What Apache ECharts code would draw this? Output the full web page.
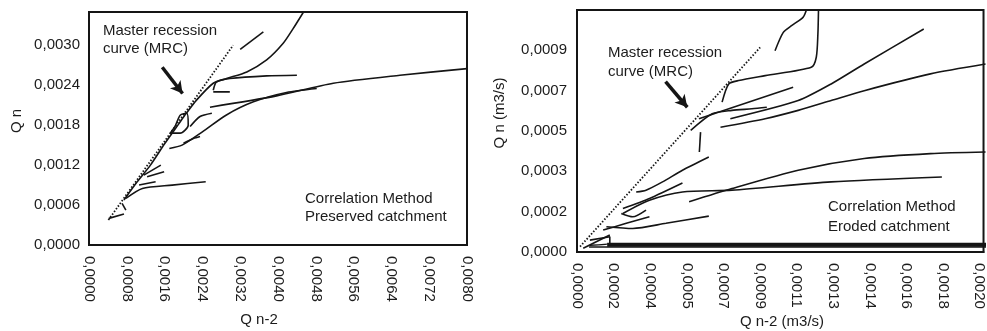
<!DOCTYPE html>
<html>
<head>
<meta charset="utf-8">
<script src="https://cdn.jsdelivr.net/npm/echarts@6/dist/echarts.min.js"></script>
<style>
  html, body { margin: 0; padding: 0; background: #fff; overflow: hidden; }
  #chart { width: 987px; height: 331px; }
</style>
</head>
<body>
<div id="chart"></div>
<script>
// ---- tick labels ----
const leftXLabels = ['0,0000', '0,0008', '0,0016', '0,0024', '0,0032', '0,0040', '0,0048', '0,0056', '0,0064', '0,0072', '0,0080']
const leftYLabels = ['0,0000', '0,0006', '0,0012', '0,0018', '0,0024', '0,0030']
const rightXLabels = ['0,0000', '0,0002', '0,0004', '0,0005', '0,0007', '0,0009', '0,0011', '0,0013', '0,0014', '0,0016', '0,0018', '0,0020']
const rightYLabels = ['0,0000', '0,0002', '0,0003', '0,0005', '0,0007', '0,0009']

// ---- preserved catchment (left) ----
const mrcLeft = [[0.00041, 0.000375], [0.00305, 0.0030]]
const arrowLeft = [[0.00155, 0.00267], [0.00198, 0.002275]]
const leftTrunk = [[0.00074, 0.000675], [0.0010, 0.00093], [0.0013, 0.0012], [0.0016, 0.00152], [0.0019, 0.00182], [0.00205, 0.00197], [0.00228, 0.00218], [0.00263, 0.00243], [0.00291, 0.0025], [0.00334, 0.0026], [0.00376, 0.00278], [0.00411, 0.00303], [0.00432, 0.00325], [0.00454, 0.0035]]
const leftB = [[0.00263, 0.002325], [0.0027, 0.00245], [0.00298, 0.0025], [0.00376, 0.00254], [0.0044, 0.00255]]
const leftDash1 = [[0.00263, 0.0023], [0.00298, 0.0023]]
const leftDash2 = [[0.0032, 0.00294], [0.00369, 0.0032]]
const leftC = [[0.00256, 0.00207], [0.00397, 0.00224], [0.00517, 0.00243], [0.00658, 0.00255], [0.0080, 0.00265]]
const leftD = [[0.0017, 0.00145], [0.00197, 0.0015], [0.0024, 0.0017], [0.0029, 0.00195], [0.00348, 0.00215], [0.00418, 0.00229], [0.00482, 0.00235]]
const leftLoop = [[0.00172, 0.00168], [0.00193, 0.00168], [0.0021, 0.0018], [0.00207, 0.00198], [0.00193, 0.00195], [0.00182, 0.00178], [0.00172, 0.00168]]
const leftBranch = [[0.00214, 0.00178], [0.00235, 0.00193], [0.0026, 0.00198]]
const leftDash3 = [[0.0020, 0.00153], [0.00221, 0.0016], [0.00235, 0.00163]]
const leftDash4 = [[0.00106, 0.0009], [0.00141, 0.00095]]
const leftHook1 = [[0.00116, 0.00105], [0.00152, 0.0012]]
const leftHook2 = [[0.00123, 0.001025], [0.00159, 0.0011]]
const leftE = [[0.00078, 0.0007], [0.00113, 0.00085], [0.00176, 0.0009], [0.00247, 0.00095]]
const leftSmall = [[0.00042, 0.0004], [0.00074, 0.000465]]
const leftCross = [[0.0007, 0.000625], [0.00078, 0.000525]]

// ---- eroded catchment (right) ----
const mrcRight = [[0.000015, 0.000024], [0.00091, 0.000913]]
const arrowRight = [[0.00044, 0.00076], [0.000548, 0.000646]]
const rightTop = [[0.000984, 0.000898], [0.001025, 0.00098], [0.001066, 0.00101], [0.001123, 0.001047], [0.00114, 0.00108]]
const rightHook = [[0.000721, 0.000669], [0.000754, 0.00075], [0.000803, 0.000765], [0.000935, 0.000787], [0.001164, 0.000824], [0.001189, 0.000869], [0.001197, 0.000973], [0.0012, 0.00108]]
const rightG = [[0.000606, 0.000595], [0.001074, 0.000735]]
const rightH = [[0.000762, 0.000595], [0.001099, 0.000676], [0.001263, 0.00075], [0.001427, 0.000839], [0.001723, 0.000995]]
const rightI = [[0.000713, 0.000557], [0.000935, 0.000595], [0.001099, 0.000632], [0.001263, 0.000676], [0.001427, 0.00072], [0.001756, 0.000795], [0.00203, 0.000839]]
const rightJ = [[0.000565, 0.000543], [0.000672, 0.000617], [0.00077, 0.000632], [0.000869, 0.000639], [0.000943, 0.000646]]
const rightVert = [[0.000614, 0.000535], [0.000608, 0.000446]]
const rightK = [[0.000557, 0.000224], [0.00077, 0.000283], [0.001099, 0.000365], [0.001427, 0.000417], [0.001756, 0.000439], [0.00203, 0.000446]]
const rightL = [[0.000228, 0.000172], [0.00036, 0.000231], [0.000524, 0.000268], [0.00077, 0.000276], [0.001263, 0.000313], [0.001813, 0.000335]]
const rightM = [[0.000294, 0.000268], [0.000343, 0.000276], [0.000425, 0.000313], [0.000524, 0.000365], [0.000655, 0.000424]]
const rightN = [[0.000228, 0.000194], [0.00036, 0.000239], [0.000524, 0.000308]]
const rightLoop = [[0.00022, 0.000172], [0.000277, 0.000157], [0.000343, 0.000187]]
const rightO = [[0.000146, 0.000113], [0.000277, 0.000105], [0.000442, 0.000128], [0.000655, 0.00016]]
const rightP = [[0.00013, 0.000098], [0.000245, 0.000128], [0.00036, 0.000157]]
const rightBox = [[0.000064, 0.000053], [0.000163, 0.000068], [0.000163, 0.00004], [0.000064, 0.00003]]
const rightFoot = [[0.000031, 0.0000165], [0.000163, 0.0000756]]
const rightBase1 = [[0.00015, 0.000032], [0.0021, 0.000032]]
const rightBase2 = [[0.00006, 0.000022], [0.0021, 0.000022]]

const leftLines = [leftTrunk, leftB, leftDash1, leftDash2, leftC, leftD, leftLoop, leftBranch, leftDash3, leftDash4, leftHook1, leftHook2, leftE, leftSmall, leftCross]
const rightLines = [rightTop, rightHook, rightG, rightH, rightI, rightJ, rightVert, rightK, rightL, rightM, rightN, rightLoop, rightO, rightP, rightBox, rightFoot, rightBase2]

const ink = '#151515'
const textInk = '#1c1c1c'
const textFont = '15px "Liberation Sans"'

function tickFmt(labels, step) {
  return function (v) {
    const i = Math.round(v / step)
    return Math.abs(v - i * step) < step * 1e-3 ? (labels[i] || '') : ''
  }
}

function curve(data, idx, width) {
  return {
    type: 'line', data: data, xAxisIndex: idx, yAxisIndex: idx,
    symbol: 'none', smooth: 0.25, silent: true,
    lineStyle: { color: ink, width: width || 1.6 }
  }
}

function mrc(data, arrow, idx) {
  return {
    type: 'line', data: data, xAxisIndex: idx, yAxisIndex: idx,
    symbol: 'none', silent: true,
    lineStyle: { color: ink, width: 1.8, type: [1.5, 1.8] },
    markLine: {
      silent: true, symbol: ['none', 'arrow'], symbolSize: [10, 12],
      label: { show: false },
      lineStyle: { color: ink, width: 3.5, type: 'solid' },
      data: [[{ coord: arrow[0] }, { coord: arrow[1] }]]
    }
  }
}

// right panel ticks are evenly spaced, labels rounded to 4 decimals
const xStepR = 0.002 / 11
const yStepR = 0.00018

const axisCommon = {
  axisTick: { show: false },
  splitLine: { show: false },
  axisLine: { lineStyle: { color: ink, width: 2 } }
}

const labelStyle = { color: textInk, fontFamily: 'Liberation Sans', fontSize: 15 }

const series = []
series.push(mrc(mrcLeft, arrowLeft, 0))
leftLines.forEach(d => series.push(curve(d, 0)))
series.push(mrc(mrcRight, arrowRight, 1))
rightLines.forEach(d => series.push(curve(d, 1)))
series.push(curve(rightBase1, 1, 4))

function txt(x, y, text, extra) {
  return Object.assign({ type: 'text', x: x, y: y, style: Object.assign({ text: text, fill: textInk, font: textFont, verticalAlign: 'middle' }, extra || {}) })
}

const chart = echarts.init(document.getElementById('chart'), null, { renderer: 'canvas' })
chart.setOption({
  animation: false,
  backgroundColor: '#fff',
  grid: [
    { left: 89, top: 12, width: 378, height: 233, show: true, borderColor: ink, borderWidth: 2, backgroundColor: 'transparent' },
    { left: 577, top: 10, width: 410, height: 242, show: true, borderColor: ink, borderWidth: 2, backgroundColor: 'transparent' }
  ],
  xAxis: [
    Object.assign({}, axisCommon, {
      type: 'value', gridIndex: 0, min: 0, max: 0.008, interval: 0.0008,
      axisLabel: Object.assign({}, labelStyle, { rotate: -90, margin: 11, formatter: tickFmt(leftXLabels, 0.0008) })
    }),
    Object.assign({}, axisCommon, {
      type: 'value', gridIndex: 1, min: 0, max: 0.00202, interval: xStepR,
      axisLabel: Object.assign({}, labelStyle, { rotate: -90, margin: 11, formatter: tickFmt(rightXLabels, xStepR) })
    })
  ],
  yAxis: [
    Object.assign({}, axisCommon, {
      type: 'value', gridIndex: 0, min: 0, max: 0.0035, interval: 0.0006,
      axisLabel: Object.assign({}, labelStyle, { margin: 9, formatter: tickFmt(leftYLabels, 0.0006) })
    }),
    Object.assign({}, axisCommon, {
      type: 'value', gridIndex: 1, min: 0, max: 6 * yStepR, interval: yStepR,
      axisLabel: Object.assign({}, labelStyle, { margin: 10, formatter: tickFmt(rightYLabels, yStepR) })
    })
  ],
  graphic: [
    Object.assign(txt(17, 121, 'Q n', { align: 'center' }), { rotation: Math.PI / 2 }),
    txt(259, 320, 'Q n-2', { align: 'center' }),
    Object.assign(txt(500, 113, 'Q n (m3/s)', { align: 'center' }), { rotation: Math.PI / 2 }),
    txt(782, 322, 'Q n-2 (m3/s)', { align: 'center' }),
    txt(103, 40, 'Master recession\ncurve (MRC)', { lineHeight: 18 }),
    txt(305, 208, 'Correlation Method\nPreserved catchment', { lineHeight: 18 }),
    txt(608, 62, 'Master recession\ncurve (MRC)', { lineHeight: 19 }),
    txt(828, 217, 'Correlation Method\nEroded catchment', { lineHeight: 20 })
  ],
  series: series
})
</script>
</body>
</html>
